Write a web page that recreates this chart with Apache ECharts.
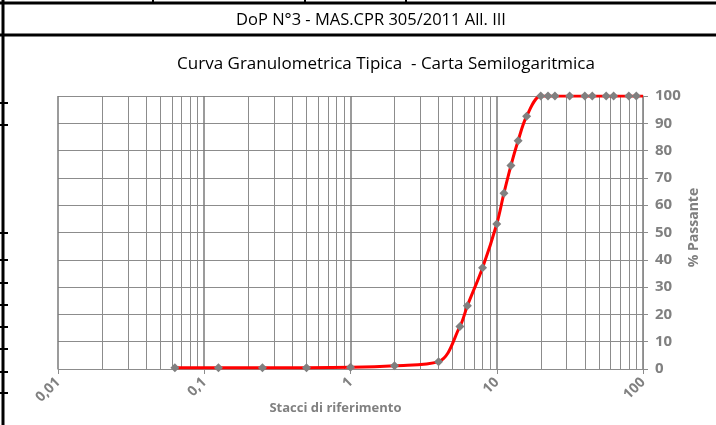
<!DOCTYPE html>
<html>
<head>
<meta charset="utf-8">
<script src="https://cdn.jsdelivr.net/npm/echarts@6/dist/echarts.min.js"></script>
<style>
  html, body { margin: 0; padding: 0; background: #fff; }
  #chart { width: 716px; height: 425px; }
</style>
</head>
<body>
<div id="chart"></div>
<script>
// aperture dei setacci (mm) e % passante
const sieves = [0.063, 0.125, 0.25, 0.5, 1, 2, 4, 5.6, 6.3, 8, 10, 11.2, 12.5, 14, 16, 20, 22.4, 25, 31.5, 40, 45, 56, 63, 80, 90, 100];
const passing = [0.5, 0.5, 0.5, 0.5, 0.6, 1.2, 2.7, 15.6, 23.2, 37.1, 53.1, 64.4, 74.5, 83.6, 92.6, 100, 100, 100, 100, 100, 100, 100, 100, 100, 100, 100];
const yTicks = [0, 10, 20, 30, 40, 50, 60, 70, 80, 90, 100];
const decades = [0.01, 0.1, 1, 10, 100];

const GRAY = '#808080';
const GRID_LINE = '#8c8c8c';
const FONT = '"Open Sans", "Liberation Sans", sans-serif';

// linee verticali della carta semilogaritmica (2..9 per decade)
const minorLines = [];
decades.slice(0, -1).forEach(d => {
  for (let k = 2; k <= 9; k++) minorLines.push({ xAxis: +(d * k).toPrecision(3) });
});

const chart = echarts.init(document.getElementById('chart'));

// bordi delle celle del foglio
const frame = [
  { type: 'line', shape: { x1: 0, y1: 3, x2: 716, y2: 3 }, style: { stroke: '#000', lineWidth: 3 } },
  { type: 'line', shape: { x1: 0, y1: 35, x2: 716, y2: 35 }, style: { stroke: '#000', lineWidth: 3 } },
  { type: 'line', shape: { x1: 3, y1: 0, x2: 3, y2: 425 }, style: { stroke: '#000', lineWidth: 3 } },
];
[153, 305, 406].forEach(x => frame.push({ type: 'line', shape: { x1: x, y1: 0, x2: x, y2: 3 }, style: { stroke: '#000', lineWidth: 2 } }));
[103, 125, 233, 260, 283, 305, 327, 349, 372, 393].forEach(y => frame.push({ type: 'line', shape: { x1: 0, y1: y, x2: 8, y2: y }, style: { stroke: '#000', lineWidth: 2 } }));

chart.setOption({
  animation: false,
  textStyle: { fontFamily: FONT },
  title: [
    {
      text: 'DoP N°3 - MAS.CPR 305/2011 All. III',
      left: 366, top: 7, textAlign: 'center',
      textStyle: { fontFamily: FONT, fontSize: 16.5, fontWeight: 'normal', color: '#000' },
    },
    {
      text: 'Curva Granulometrica Tipica  - Carta Semilogaritmica',
      left: 381, top: 51, textAlign: 'center',
      textStyle: { fontFamily: FONT, fontSize: 17, fontWeight: 'normal', color: '#000' },
    },
  ],
  graphic: frame,
  grid: { left: 58, right: 73, top: 96, bottom: 56, outerBoundsMode: 'none' },
  xAxis: {
    type: 'log',
    logBase: 10,
    min: 0.01,
    max: 100,
    name: 'Stacci di riferimento',
    nameLocation: 'middle',
    nameGap: 33,
    nameMoveOverlap: false,
    nameTextStyle: { color: GRAY, fontWeight: 'bold', fontSize: 13, padding: [0, 30, 0, 0] },
    axisLine: { lineStyle: { color: GRID_LINE } },
    axisTick: { show: true, length: 5, lineStyle: { color: GRID_LINE } },
    axisLabel: {
      rotate: 45,
      color: GRAY,
      fontWeight: 'bold',
      fontSize: 14,
      margin: 11,
      formatter: v => String(+(+v).toPrecision(3)).replace('.', ','),
    },
    splitLine: { show: true, lineStyle: { color: '#7a7a7a', width: 1.5 } },
  },
  yAxis: {
    type: 'value',
    position: 'right',
    min: 0,
    max: 100,
    interval: 10,
    name: '% Passante',
    nameLocation: 'middle',
    nameRotate: 90,
    nameGap: 44,
    nameMoveOverlap: false,
    nameTextStyle: { color: GRAY, fontWeight: 'bold', fontSize: 14, padding: [0, 0, 0, 10] },
    axisLine: { show: true, lineStyle: { color: GRID_LINE } },
    axisTick: { show: true, length: 5, lineStyle: { color: GRID_LINE } },
    axisLabel: { color: GRAY, fontWeight: 'bold', fontSize: 15, margin: 12 },
    splitLine: { show: true, lineStyle: { color: GRID_LINE, width: 1 } },
  },
  series: [
    {
      type: 'line',
      data: sieves.map((s, i) => (s === 100
        ? { value: [s, passing[i]], symbolSize: 0 }
        : [s, passing[i]])),
      smooth: 0.35,
      symbol: 'diamond',
      symbolSize: 9,
      itemStyle: { color: '#808080' },
      lineStyle: { color: '#ff0000', width: 3 },
      z: 5,
      markLine: {
        silent: true,
        symbol: 'none',
        label: { show: false },
        lineStyle: { color: GRID_LINE, width: 1, type: 'solid' },
        data: minorLines,
        z: 1,
      },
    },
  ],
});
</script>
</body>
</html>
